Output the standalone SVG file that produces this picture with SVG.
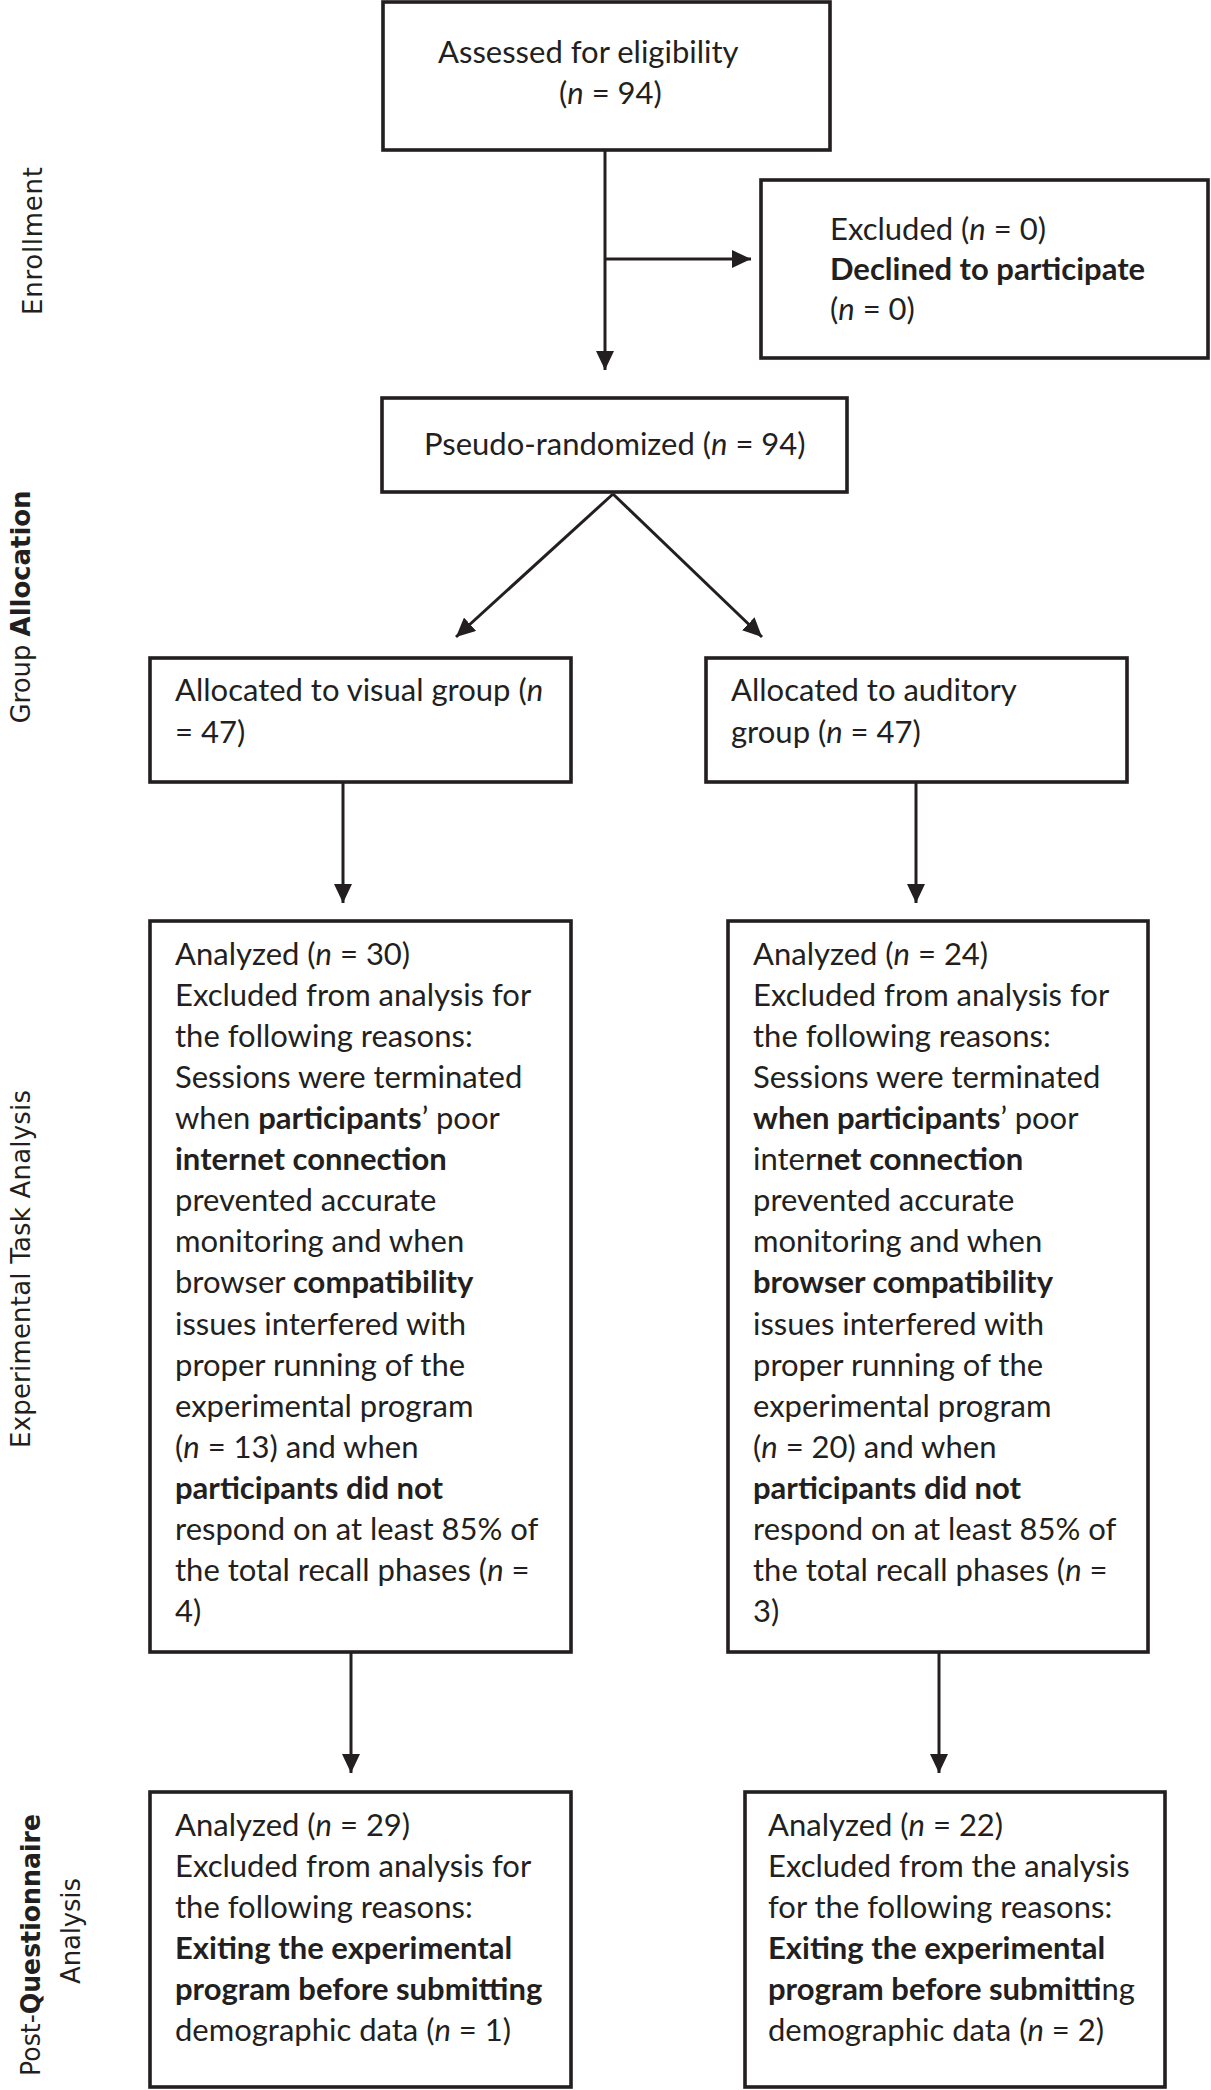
<svg xmlns="http://www.w3.org/2000/svg" width="1211" height="2090" viewBox="0 0 1211 2090">
<style>
.box{fill:#fff;stroke:#231f20;stroke-width:3.6}
.t{font-family:Lato,"Liberation Sans",sans-serif;font-size:31px;fill:#231f20}
.b{font-weight:bold}
.i{font-style:italic}
.side{font-family:"DejaVu Sans","Liberation Sans",sans-serif;font-size:26px;fill:#231f20}
.ln{fill:none;stroke:#231f20;stroke-width:3}
</style>
<defs>
<marker id="ah" markerUnits="userSpaceOnUse" markerWidth="20" markerHeight="18" refX="19" refY="9" orient="auto">
<path d="M0,0 L19,9 L0,18 z" fill="#231f20"/>
</marker>
</defs>
<rect width="1211" height="2090" fill="#fff"/>

<g id="side-labels">
<text class="side" transform="translate(42,241) rotate(-90)" text-anchor="middle" textLength="148" lengthAdjust="spacing">Enrollment</text>
<text class="side" transform="translate(30,607) rotate(-90)" text-anchor="middle" textLength="233" lengthAdjust="spacingAndGlyphs">Group  <tspan class="b">Allocation</tspan></text>
<text class="side" transform="translate(30,1269) rotate(-90)" text-anchor="middle" textLength="358" lengthAdjust="spacing">Experimental Task Analysis</text>
<text class="side" transform="translate(40,1945) rotate(-90)" text-anchor="middle" textLength="262" lengthAdjust="spacingAndGlyphs">Post-<tspan class="b">Questionnaire</tspan></text>
<text class="side" transform="translate(80,1931) rotate(-90)" text-anchor="middle" textLength="106" lengthAdjust="spacing">Analysis</text>
</g>

<g id="connectors">
<line class="ln" x1="605" y1="150" x2="605" y2="370" marker-end="url(#ah)"/>
<line class="ln" x1="605" y1="259" x2="751" y2="259" marker-end="url(#ah)"/>
<line class="ln" x1="613" y1="494" x2="456" y2="637" marker-end="url(#ah)"/>
<line class="ln" x1="613" y1="494" x2="762" y2="637" marker-end="url(#ah)"/>
<line class="ln" x1="343" y1="783" x2="343" y2="903" marker-end="url(#ah)"/>
<line class="ln" x1="916" y1="783" x2="916" y2="903" marker-end="url(#ah)"/>
<line class="ln" x1="351" y1="1653" x2="351" y2="1773" marker-end="url(#ah)"/>
<line class="ln" x1="939" y1="1653" x2="939" y2="1773" marker-end="url(#ah)"/>
</g>

<g id="assessed">
<rect class="box" x="383" y="2" width="447" height="148"/>
<text class="t" x="438" y="63">Assessed for eligibility</text>
<text class="t" x="559" y="104">(<tspan class="i">n</tspan> = 94)</text>
</g>

<g id="excluded">
<rect class="box" x="761" y="180" width="447" height="178"/>
<text class="t" x="830" y="240">Excluded (<tspan class="i">n</tspan> = 0)</text>
<text class="t b" x="830" y="280">Declined to participate</text>
<text class="t" x="830" y="320">(<tspan class="i">n</tspan> = 0)</text>
</g>

<g id="randomized">
<rect class="box" x="382" y="398" width="465" height="94"/>
<text class="t" x="424" y="455">Pseudo-randomized (<tspan class="i">n</tspan> = 94)</text>
</g>

<g id="visual">
<rect class="box" x="150" y="658" width="421" height="124"/>
<text class="t" x="175" y="701">Allocated to visual group (<tspan class="i">n</tspan></text>
<text class="t" x="175" y="743">= 47)</text>
</g>

<g id="auditory">
<rect class="box" x="706" y="658" width="421" height="124"/>
<text class="t" x="731" y="701">Allocated to auditory</text>
<text class="t" x="731" y="743">group (<tspan class="i">n</tspan> = 47)</text>
</g>

<g id="visual-analyzed">
<rect class="box" x="150" y="921" width="421" height="731"/>
<text class="t" x="175" y="965">Analyzed (<tspan class="i">n</tspan> = 30)</text>
<text class="t" x="175" y="1006">Excluded from analysis for</text>
<text class="t" x="175" y="1047">the following reasons:</text>
<text class="t" x="175" y="1088">Sessions were terminated</text>
<text class="t" x="175" y="1129">when <tspan class="b">participants</tspan>’ poor</text>
<text class="t b" x="175" y="1170">internet connection</text>
<text class="t" x="175" y="1211">prevented accurate</text>
<text class="t" x="175" y="1252">monitoring and when</text>
<text class="t" x="175" y="1293">browser <tspan class="b">compatibility</tspan></text>
<text class="t" x="175" y="1335">issues interfered with</text>
<text class="t" x="175" y="1376">proper running of the</text>
<text class="t" x="175" y="1417">experimental program</text>
<text class="t" x="175" y="1458">(<tspan class="i">n</tspan> = 13) and when</text>
<text class="t b" x="175" y="1499">participants did not</text>
<text class="t" x="175" y="1540">respond on at least 85% of</text>
<text class="t" x="175" y="1581">the total recall phases (<tspan class="i">n</tspan> =</text>
<text class="t" x="175" y="1622">4)</text>
</g>

<g id="auditory-analyzed">
<rect class="box" x="728" y="921" width="420" height="731"/>
<text class="t" x="753" y="965">Analyzed (<tspan class="i">n</tspan> = 24)</text>
<text class="t" x="753" y="1006">Excluded from analysis for</text>
<text class="t" x="753" y="1047">the following reasons:</text>
<text class="t" x="753" y="1088">Sessions were terminated</text>
<text class="t" x="753" y="1129"><tspan class="b">when participants</tspan>’ poor</text>
<text class="t" x="753" y="1170">inter<tspan class="b">net connection</tspan></text>
<text class="t" x="753" y="1211">prevented accurate</text>
<text class="t" x="753" y="1252">monitoring and when</text>
<text class="t b" x="753" y="1293">browser compatibility</text>
<text class="t" x="753" y="1335">issues interfered with</text>
<text class="t" x="753" y="1376">proper running of the</text>
<text class="t" x="753" y="1417">experimental program</text>
<text class="t" x="753" y="1458">(<tspan class="i">n</tspan> = 20) and when</text>
<text class="t b" x="753" y="1499">participants did not</text>
<text class="t" x="753" y="1540">respond on at least 85% of</text>
<text class="t" x="753" y="1581">the total recall phases (<tspan class="i">n</tspan> =</text>
<text class="t" x="753" y="1622">3)</text>
</g>

<g id="visual-post">
<rect class="box" x="150" y="1792" width="421" height="295"/>
<text class="t" x="175" y="1836">Analyzed (<tspan class="i">n</tspan> = 29)</text>
<text class="t" x="175" y="1877">Excluded from analysis for</text>
<text class="t" x="175" y="1918">the following reasons:</text>
<text class="t b" x="175" y="1959">Exiting the experimental</text>
<text class="t b" x="175" y="2000">program before submitting</text>
<text class="t" x="175" y="2041">demographic data (<tspan class="i">n</tspan> = 1)</text>
</g>

<g id="auditory-post">
<rect class="box" x="745" y="1792" width="420" height="295"/>
<text class="t" x="768" y="1836">Analyzed (<tspan class="i">n</tspan> = 22)</text>
<text class="t" x="768" y="1877">Excluded from the analysis</text>
<text class="t" x="768" y="1918">for the following reasons:</text>
<text class="t b" x="768" y="1959">Exiting the experimental</text>
<text class="t" x="768" y="2000"><tspan class="b">program before submitti</tspan>ng</text>
<text class="t" x="768" y="2041">demographic data (<tspan class="i">n</tspan> = 2)</text>
</g>
</svg>
